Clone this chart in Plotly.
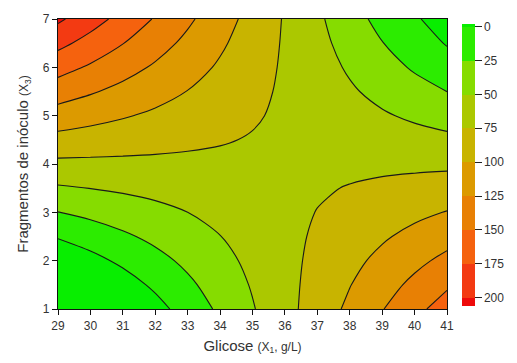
import plotly.graph_objects as go

# Glicose (X1, g/L)
glicose = [29, 30, 31, 32, 33, 34, 35, 36, 37, 38, 39, 40, 41]
# Fragmentos de inóculo (X3)
fragmentos = [1.0, 1.5, 2.0, 2.5, 3.0, 3.5, 4.0, 4.5, 5.0, 5.5, 6.0, 6.5, 7.0]

# response values, one row per fragmentos value
z_y1_0 = [-65.3, -46.3, -27.4, -8.5, 10.4, 29.3, 48.3, 67.2, 86.1, 105.0, 123.9, 142.8, 161.8]
z_y1_5 = [-42.8, -27.0, -11.2, 4.5, 20.3, 36.1, 51.9, 67.7, 83.4, 99.2, 115.0, 130.8, 146.5]
z_y2_0 = [-20.3, -7.7, 4.9, 17.6, 30.2, 42.9, 55.5, 68.1, 80.8, 93.4, 106.1, 118.7, 131.3]
z_y2_5 = [2.1, 11.6, 21.1, 30.6, 40.1, 49.6, 59.1, 68.6, 78.1, 87.6, 97.1, 106.6, 116.1]
z_y3_0 = [24.6, 30.9, 37.3, 43.7, 50.0, 56.4, 62.8, 69.1, 75.5, 81.8, 88.2, 94.6, 100.9]
z_y3_5 = [47.0, 50.3, 53.5, 56.7, 59.9, 63.2, 66.4, 69.6, 72.8, 76.0, 79.3, 82.5, 85.7]
z_y4_0 = [69.5, 69.6, 69.7, 69.8, 69.8, 69.9, 70.0, 70.1, 70.2, 70.3, 70.3, 70.4, 70.5]
z_y4_5 = [92.0, 88.9, 85.9, 82.8, 79.7, 76.7, 73.6, 70.6, 67.5, 64.5, 61.4, 58.3, 55.3]
z_y5_0 = [114.4, 108.2, 102.0, 95.8, 89.6, 83.4, 77.3, 71.1, 64.9, 58.7, 52.5, 46.3, 40.1]
z_y5_5 = [136.9, 127.5, 118.2, 108.9, 99.5, 90.2, 80.9, 71.5, 62.2, 52.9, 43.5, 34.2, 24.9]
z_y6_0 = [159.3, 146.9, 134.4, 121.9, 109.4, 97.0, 84.5, 72.0, 59.6, 47.1, 34.6, 22.1, 9.7]
z_y6_5 = [181.8, 166.2, 150.6, 135.0, 119.3, 103.7, 88.1, 72.5, 56.9, 41.3, 25.7, 11.0, -1.5]
z_y7_0 = [204.3, 185.5, 166.8, 148.0, 129.3, 110.5, 91.8, 73.0, 54.3, 35.5, 17.0, 3.5, -14.0]

z_rows = [z_y1_0, z_y1_5, z_y2_0, z_y2_5, z_y3_0, z_y3_5, z_y4_0,
          z_y4_5, z_y5_0, z_y5_5, z_y6_0, z_y6_5, z_y7_0]

level_ticks = [0, 25, 50, 75, 100, 125, 150, 175, 200]
bar_range = [-2, 206]   # extent of the colour bar (0 at top, 206 at bottom)

# band colours from >200 (red) to <0 (bright green)
band_colors = ["#ee0a0a", "#f33a12", "#f5620e", "#e88004", "#dc9a00",
               "#c8b400", "#abc800", "#86dc00", "#2cec00", "#08ee00"]

# the colour bar is drawn with 0 on top, so the response is plotted negated
z_neg = [[-v for v in row] for row in z_rows]
n = len(band_colors)
contour_scale = [[i / (n - 1), c] for i, c in enumerate(band_colors)]

# stepped scale for the colour bar, in negated units
zmin, zmax = -bar_range[1], -bar_range[0]
bounds = [zmin] + [-v for v in reversed(level_ticks)] + [zmax]
bar_scale = []
for i, c in enumerate(band_colors):
    t0 = (bounds[i] - zmin) / (zmax - zmin)
    t1 = (bounds[i + 1] - zmin) / (zmax - zmin)
    bar_scale.append([t0, c])
    bar_scale.append([t1, c])

tick_font = dict(family="Liberation Sans, Arial", size=12, color="#333")

fig = go.Figure()
# heatmap underneath only provides the stepped colour bar
fig.add_trace(go.Heatmap(
    x=glicose, y=fragmentos, z=z_neg,
    zmin=zmin, zmax=zmax, colorscale=bar_scale,
    hoverinfo="skip",
    colorbar=dict(
        x=1.0386, xanchor="left", xpad=0,
        y=0.497, yanchor="middle", ypad=0,
        len=0.973, lenmode="fraction", thickness=13,
        outlinewidth=0,
        tickvals=[-v for v in level_ticks],
        ticktext=[str(v) for v in level_ticks],
        ticks="outside", ticklen=7, tickcolor="#222", tickwidth=1,
        tickfont=tick_font,
    ),
))
fig.add_trace(go.Contour(
    x=glicose, y=fragmentos, z=z_neg,
    colorscale=contour_scale, showscale=False,
    contours=dict(start=-200, end=0, size=25, coloring="fill"),
    line=dict(color="#1a1a1a", width=1.1, smoothing=0.9),
    hoverinfo="skip",
))

fig.update_layout(
    width=517, height=363,
    margin=dict(l=58, r=70, t=14, b=50),
    paper_bgcolor="white", plot_bgcolor="white",
    font=dict(family="Liberation Sans, Arial", color="#333"),
    xaxis=dict(
        range=[29, 41], dtick=1, tick0=29,
        showline=True, linecolor="#111", linewidth=1.2, mirror=True,
        ticks="outside", ticklen=5, tickcolor="#111",
        tickfont=tick_font, showgrid=False, zeroline=False,
        title=dict(text='Glicose <span style="font-size:12px">(X<sub>1</sub>, g/L)</span>',
                   font=dict(size=15, color="#333"), standoff=8),
    ),
    yaxis=dict(
        range=[1, 7], dtick=1, tick0=1,
        showline=True, linecolor="#111", linewidth=1.2, mirror=True,
        ticks="outside", ticklen=5, tickcolor="#111",
        tickfont=tick_font, showgrid=False, zeroline=False,
        title=dict(text='Fragmentos de inóculo <span style="font-size:12px">(X<sub>3</sub>)</span>',
                   font=dict(size=15, color="#333"), standoff=10),
    ),
)

fig.write_html("out.html")
